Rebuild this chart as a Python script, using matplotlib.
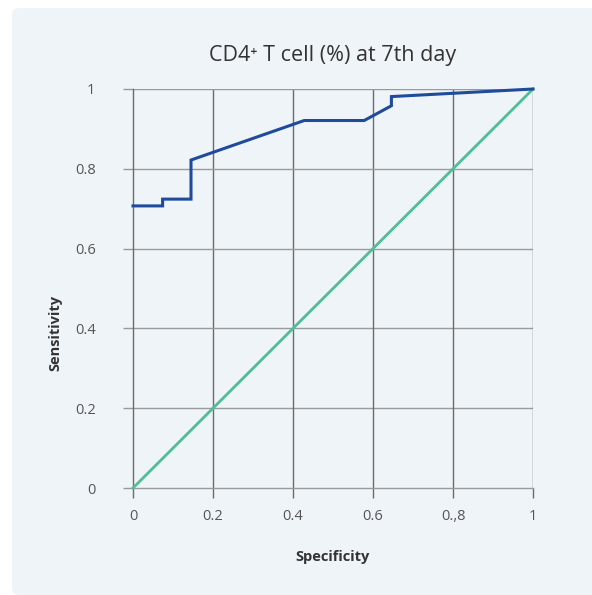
#!/usr/bin/env python3
import matplotlib
import matplotlib.pyplot as plt
from matplotlib.patches import FancyBboxPatch

matplotlib.use('Agg')

# ROC curve
specificity = [0, 0.074, 0.074, 0.145, 0.145, 0.428, 0.578, 0.646, 0.646, 1.0]
sensitivity = [0.707, 0.707, 0.724, 0.724, 0.822, 0.921, 0.921, 0.958, 0.981, 1.0]
ref_x = [0, 1]
ref_y = [0, 1]
tick_vals = [0, 0.2, 0.4, 0.6, 0.8, 1]
x_tick_labels = ['0', '0.2', '0.4', '0.6', '0.,8', '1']
y_tick_labels = ['0', '0.2', '0.4', '0.6', '0.8', '1']

FONT = ['Open Sans', 'DejaVu Sans']
plt.rcParams['font.family'] = FONT

fig = plt.figure(figsize=(5.92, 5.95), dpi=100)
fig.patch.set_facecolor('white')

# rounded background panel
panel = FancyBboxPatch((12 / 592, 0), 1.2, (595 - 8) / 595,
                       boxstyle='round,pad=0,rounding_size=0.012',
                       transform=fig.transFigure, facecolor='#eff4f8',
                       edgecolor='none', zorder=-10)
fig.patches.append(panel)

ax = fig.add_axes([133 / 592, 107 / 595, 400 / 592, 399 / 595])
ax.set_facecolor('none')
ax.set_xlim(0, 1)
ax.set_ylim(0, 1)

for v in tick_vals[1:]:
    ax.axvline(v, color='#6b6b6b', lw=1.0, zorder=1)
    ax.axhline(v, color='#9a9a9a', lw=1.0, zorder=1)

for s in ['top', 'right']:
    ax.spines[s].set_visible(False)
ax.spines['left'].set_color('#6b6b6b')
ax.spines['bottom'].set_color('#9a9a9a')
ax.spines['left'].set_linewidth(1.0)
ax.spines['bottom'].set_linewidth(1.0)

ax.plot(ref_x, ref_y, color='#4cbf93', lw=2.0, zorder=3, clip_on=False)
ax.plot(specificity, sensitivity, color='#1f4b9a', lw=2.2, zorder=4,
        clip_on=False, solid_joinstyle='miter')

ax.set_xticks(tick_vals)
ax.set_xticklabels(x_tick_labels)
ax.set_yticks(tick_vals)
ax.set_yticklabels(y_tick_labels)
ax.tick_params(axis='x', length=7, width=1.0, color='#6b6b6b', pad=8,
               labelsize=10.5, labelcolor='#555555')
ax.tick_params(axis='y', length=7, width=1.0, color='#9a9a9a', pad=20,
               labelsize=10.5, labelcolor='#555555')

ax.set_xlabel('Specificity', fontsize=10.5, fontweight='bold',
              color='#333333', labelpad=19)
ax.set_ylabel('Sensitivity', fontsize=10.5, fontweight='bold',
              color='#333333', labelpad=9)
ax.yaxis.set_label_coords(-0.177, 0.388)

fig.text(333 / 592, 1 - 55 / 595, 'CD4⁺ T cell (%) at 7th day', ha='center',
         va='center', fontsize=15.5, color='#333333')

plt.savefig('out.png', dpi=100)
plt.close()
